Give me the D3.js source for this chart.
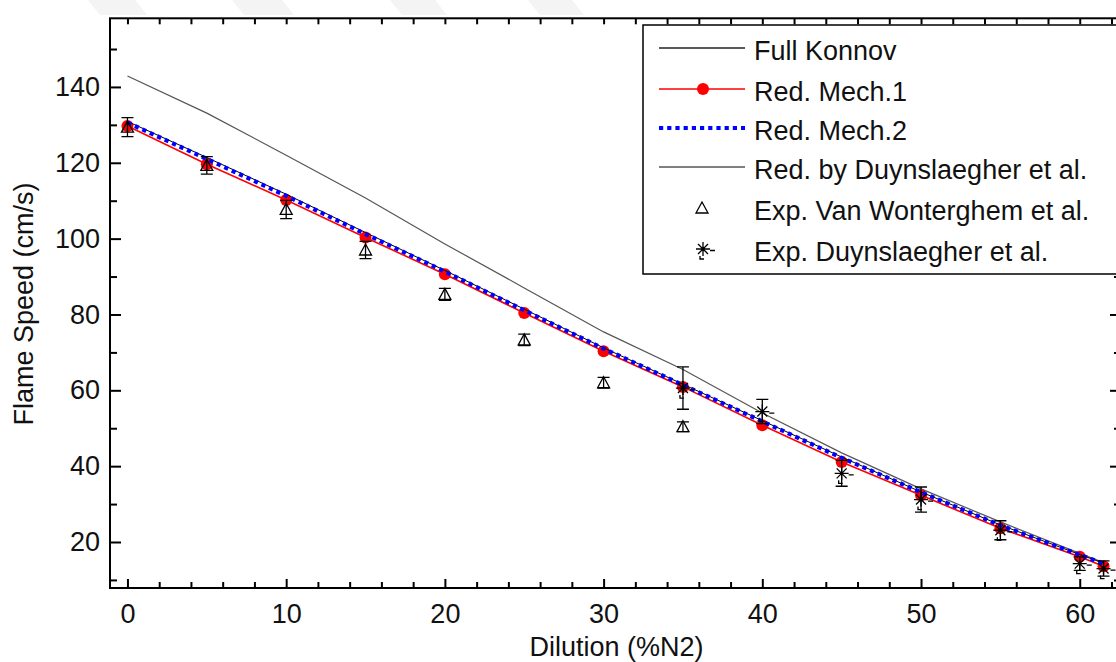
<!DOCTYPE html>
<html>
<head>
<meta charset="utf-8">
<script src="https://cdn.jsdelivr.net/npm/d3@7"></script>
<style>
  body { margin: 0; background: #fff; }
  text { font-family: "Liberation Sans", Arial, sans-serif; fill: #111; }
</style>
</head>
<body>
<svg></svg>
<script>
// simulated flame speed vs N2 dilution
var dilution = [0, 5, 10, 15, 20, 25, 30, 35, 40, 45, 50, 55, 60, 61.5]
var fullKonnov = [142.9, 133.1, 122.0, 110.7, 98.6, 87.0, 75.4, 65.5, 54.0, 43.5, 34.0, 25.3, 17.0, 14.6]
var redMech1 = [129.7, 119.6, 110.2, 100.3, 90.6, 80.4, 70.3, 60.9, 50.8, 41.1, 32.3, 23.6, 16.1, 13.6]
var redMech2 = [130.6, 121.0, 111.3, 101.2, 91.3, 81.1, 71.0, 61.4, 51.8, 42.2, 33.1, 24.4, 16.6, 14.3]
var redDuyn = [130.9, 121.4, 111.7, 101.6, 91.6, 81.4, 71.2, 61.6, 52.0, 42.4, 33.2, 24.5, 16.7, 14.4]

// experiments
var vwX = [0, 5, 10, 15, 20, 25, 30, 35]
var vwY = [129.4, 119.3, 107.7, 97.0, 85.3, 73.3, 62.0, 50.4]
var vwErr = [2.5, 2.3, 2.4, 2.3, 1.6, 1.5, 1.4, 1.3]
var dxX = [35, 40, 45, 50, 55, 60, 61.5]
var dxY = [60.6, 54.4, 38.1, 31.2, 23.1, 14.3, 13.0]
var dxErr = [5.6, 3.2, 3.4, 3.3, 2.5, 1.8, 2.0]

var legendNames = ["Full Konnov", "Red. Mech.1", "Red. Mech.2", "Red. by Duynslaegher et al.",
    "Exp. Van Wonterghem et al.", "Exp. Duynslaegher et al."]

var xMajor = [0, 10, 20, 30, 40, 50, 60]
var xMinor = d3.range(0, 63, 2)
var yMajor = [20, 40, 60, 80, 100, 120, 140]
var yMinor = [10, 30, 50, 70, 90, 110, 130, 150]

var svg = d3.select("svg")
    .attr("width", 1116)
    .attr("height", 662)

// faint watermark bands
var bands = [[88, 135], [232, 282], [390, 435], [528, 572]]
svg.selectAll("polygon.wm").data(bands).enter().append("polygon")
    .attr("points", d => `${d[0]},0 ${d[1]},0 ${d[1] + 12},15 ${d[0] + 12},15`)
    .attr("fill", "#f4f4f4")

var pLeft = 110, pRight = 1121, pTop = 18.3, pBottom = 588

var x = d3.scaleLinear().domain([-1.1, 62.6]).range([pLeft, pRight])
var y = d3.scaleLinear().domain([7.87, 158.1]).range([pBottom, pTop])

// frame
svg.append("rect")
    .attr("x", pLeft).attr("y", pTop)
    .attr("width", pRight - pLeft).attr("height", pBottom - pTop)
    .attr("fill", "none").attr("stroke", "#000").attr("stroke-width", 2)

function tickAxis(axis, pos, size, vals, labels) {
    var g = svg.append("g").attr("transform", pos)
        .call(axis.tickValues(vals).tickSize(size).tickSizeOuter(0).tickPadding(labels ? 10 : 0))
    g.select(".domain").remove()
    g.selectAll("line").attr("stroke", "#000").attr("stroke-width", 2)
    if (!labels) g.selectAll("text").remove()
    else g.selectAll("text").attr("font-size", 27).style("font-family", "Liberation Sans, Arial, sans-serif").attr("fill", "#111")
    return g
}

// bottom / top
tickAxis(d3.axisBottom(x), `translate(0,${pBottom})`, -6, xMinor.filter(v => v % 10), false)
var xa = tickAxis(d3.axisBottom(x), `translate(0,${pBottom})`, -9, xMajor, true)
xa.selectAll("text").attr("dy", "0.71em").attr("y", 16)
tickAxis(d3.axisTop(x), `translate(0,${pTop})`, -6, xMinor, false)
// left / right
tickAxis(d3.axisLeft(y), `translate(${pLeft},0)`, -7, yMinor, false)
tickAxis(d3.axisLeft(y), `translate(${pLeft},0)`, -11, yMajor, true)
tickAxis(d3.axisRight(y), `translate(${pRight},0)`, -7, yMinor, false)
tickAxis(d3.axisRight(y), `translate(${pRight},0)`, -11, yMajor, false)

// axis titles
svg.append("text")
    .attr("x", (x(0) + x(60)) / 2 + 13).attr("y", 656)
    .attr("text-anchor", "middle").attr("font-size", 27)
    .text("Dilution (%N2)")
svg.append("text")
    .attr("transform", "translate(33,304) rotate(-90)")
    .attr("text-anchor", "middle").attr("font-size", 27)
    .text("Flame Speed (cm/s)")

var line = d3.line().x((d, i) => x(dilution[i])).y(d => y(d))

var plot = svg.append("g")
plot.append("path").datum(fullKonnov).attr("d", line)
    .attr("fill", "none").attr("stroke", "#555").attr("stroke-width", 1.2)
plot.append("path").datum(redMech1).attr("d", line)
    .attr("fill", "none").attr("stroke", "#f00").attr("stroke-width", 1.6)
plot.selectAll("circle.m1").data(redMech1).enter().append("circle")
    .attr("cx", (d, i) => x(dilution[i])).attr("cy", d => y(d))
    .attr("r", 6).attr("fill", "#f00")
plot.append("path").datum(redDuyn).attr("d", line)
    .attr("fill", "none").attr("stroke", "#000").attr("stroke-width", 1)
plot.append("path").datum(redMech2).attr("d", line)
    .attr("fill", "none").attr("stroke", "#0000ff").attr("stroke-width", 4.2)
    .attr("stroke-dasharray", "4.2,4")

function errorBar(g, cx, y1, y2) {
    g.append("path")
        .attr("d", `M${cx},${y1}V${y2}M${cx - 6},${y1}H${cx + 6}M${cx - 6},${y2}H${cx + 6}`)
        .attr("stroke", "#000").attr("stroke-width", 1.3).attr("fill", "none")
}
function triangle(g, cx, cy) {
    g.append("path")
        .attr("d", `M${cx},${cy - 6}L${cx + 6},${cy + 5}L${cx - 6},${cy + 5}Z`)
        .attr("fill", "none").attr("stroke", "#000").attr("stroke-width", 1.3)
}
function asterisk(g, cx, cy) {
    g.append("path")
        .attr("d", `M${cx - 7},${cy}H${cx + 7}M${cx},${cy - 7}V${cy + 7}` +
            `M${cx - 5},${cy - 5}L${cx + 5},${cy + 5}M${cx - 5},${cy + 5}L${cx + 5},${cy - 5}` +
            `M${cx + 7},${cy + 1.5}H${cx + 12}M${cx - 3},${cy + 7}V${cy + 10}H${cx + 1}`)
        .attr("fill", "none").attr("stroke", "#000").attr("stroke-width", 1.3)
}

var ex = svg.append("g")
vwX.forEach((v, i) => {
    errorBar(ex, x(v), y(vwY[i] + vwErr[i]), y(vwY[i] - vwErr[i]))
    triangle(ex, x(v), y(vwY[i]))
})
dxX.forEach((v, i) => {
    errorBar(ex, x(v), y(dxY[i] + dxErr[i]), y(dxY[i] - dxErr[i]))
    asterisk(ex, x(v), y(dxY[i]))
})

// legend
var lg = svg.append("g")
lg.append("rect").attr("x", 643).attr("y", 25).attr("width", 520).attr("height", 249)
    .attr("fill", "#fff").attr("stroke", "#000").attr("stroke-width", 1.5)
var rowY = [48, 89, 128, 167, 208, 249]
lg.selectAll("text").data(legendNames).enter().append("text")
    .attr("x", 754).attr("y", (d, i) => rowY[i] + 11.5)
    .attr("font-size", 27).text(d => d)
lg.append("line").attr("x1", 659).attr("x2", 745).attr("y1", rowY[0]).attr("y2", rowY[0])
    .attr("stroke", "#222").attr("stroke-width", 1.3)
lg.append("line").attr("x1", 659).attr("x2", 745).attr("y1", rowY[1]).attr("y2", rowY[1])
    .attr("stroke", "#f00").attr("stroke-width", 1.6)
lg.append("circle").attr("cx", 703).attr("cy", rowY[1]).attr("r", 6).attr("fill", "#f00")
lg.append("line").attr("x1", 659).attr("x2", 745).attr("y1", rowY[2]).attr("y2", rowY[2])
    .attr("stroke", "#0000ff").attr("stroke-width", 4.2).attr("stroke-dasharray", "4.2,4")
lg.append("line").attr("x1", 659).attr("x2", 745).attr("y1", rowY[3]).attr("y2", rowY[3])
    .attr("stroke", "#000").attr("stroke-width", 1)
triangle(lg, 702, rowY[4])
asterisk(lg, 703, rowY[5])
</script>
</body>
</html>
